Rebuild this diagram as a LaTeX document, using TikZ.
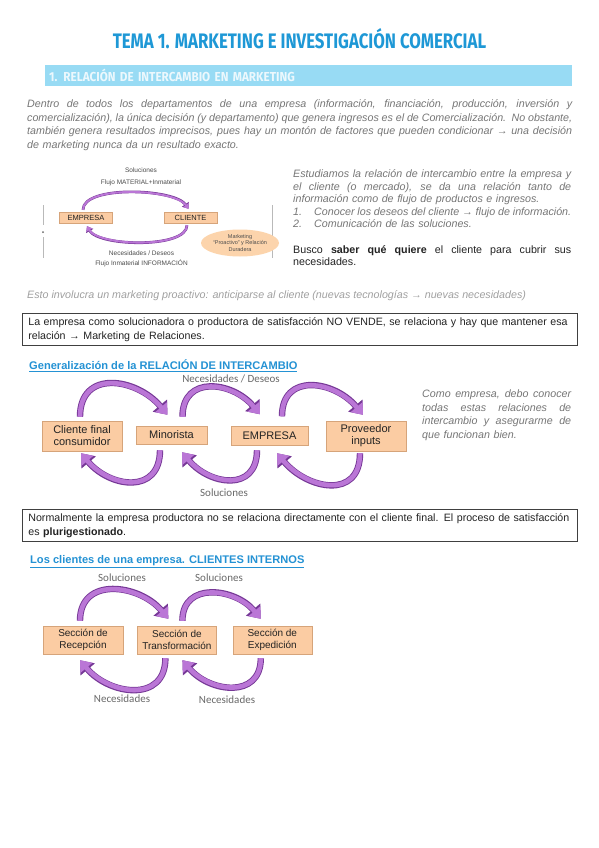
\documentclass[tikz,border=0pt]{standalone}
\usepackage{fontspec}
\setmainfont{Liberation Sans}
\newfontfamily\titlefont{Fira Sans}[FakeStretch=0.8]
\newfontfamily\barfont{Fira Sans}[FakeStretch=0.9]
\newfontfamily\labelfont{Carlito}
\usepackage{tikz}
\usetikzlibrary{shapes.geometric,arrows.meta,positioning}

\definecolor{titleblue}{RGB}{30,152,214}
\definecolor{barblue}{RGB}{152,219,244}
\definecolor{bartext}{RGB}{236,248,253}
\definecolor{headblue}{RGB}{36,146,212}
\definecolor{bodygray}{RGB}{118,118,118}
\definecolor{palegray}{RGB}{160,160,160}
\definecolor{boxfill}{RGB}{251,204,163}
\definecolor{boxline}{RGB}{214,164,122}
\definecolor{ovalfill}{RGB}{252,212,172}
\definecolor{purpfill}{RGB}{186,118,214}
\definecolor{purpedge}{RGB}{118,56,150}
\definecolor{textdark}{RGB}{35,35,35}
\definecolor{labelgray}{RGB}{105,105,105}
\definecolor{framegray}{RGB}{185,185,185}

% one justified line of fixed width
\newcommand{\fillline}[2]{\leavevmode\hbox to #1{\spaceskip=0.278em plus 1em minus 0.1em\relax #2}}

\begin{document}
\begin{tikzpicture}[x=1pt, y=1pt,
  box/.style={rectangle, draw=boxline, fill=boxfill, align=center, inner sep=0pt,
              text=textdark, minimum width=#1},
  box/.default=80pt,
  flow/.style={line width=4.6pt, draw=purpfill, -{Triangle[width=15pt,length=10pt]},
               preaction={draw=purpedge, line width=6.4pt, -{Triangle[width=18pt,length=12pt]}}},
  flowsmall/.style={line width=1.9pt, draw=purpfill, -{Triangle[width=6.5pt,length=4.5pt]},
               preaction={draw=purpedge, line width=2.7pt, -{Triangle[width=8pt,length=5.5pt]}}},
  note/.style={font=\labelfont\fontsize{11}{13}\selectfont, text=labelgray, inner sep=0pt},
  mininote/.style={font=\fontsize{6.5}{12}\selectfont, text=black!70, align=center, inner sep=0pt},
  para/.style={anchor=base west, inner sep=0pt, align=left, text=bodygray,
               font=\itshape\fontsize{10.7}{13.6}\selectfont},
  frame/.style={anchor=north west, draw=black!75, line width=0.7pt, text=textdark,
                align=left, text width=543pt, inner xsep=6pt, minimum height=32pt,
                font=\fontsize{10.65}{14}\selectfont},
  heading/.style={anchor=base west, inner sep=0pt, text=headblue,
                  font=\bfseries\fontsize{11.1}{12}\selectfont}
]
  \path[use as bounding box, fill=white] (0,0) rectangle (599,-848);

  % title and section bar
  \node[anchor=base, inner sep=0pt, text=titleblue,
        font=\titlefont\bfseries\fontsize{21}{24}\selectfont] (title) at (299.5,-49)
        {TEMA 1. MARKETING E INVESTIGACIÓN COMERCIAL};
  \node[anchor=north west, fill=barblue, minimum height=20.5pt, text width=519pt,
        inner xsep=4pt, align=left, text=bartext,
        font=\barfont\bfseries\fontsize{13}{15}\selectfont] (secbar) at (45,-65)
        {1.\hspace{6pt}RELACIÓN DE INTERCAMBIO EN MARKETING};

  \node[para, text width=545pt] (intro) at (27,-107.5) {%
    \fillline{545pt}{Dentro de todos los departamentos de una empresa (información, financiación, producción, inversión y}\\
    \fillline{545pt}{comercialización), la única decisión (y departamento) que genera ingresos es el de Comercialización. No obstante,}\\
    \fillline{545pt}{también genera resultados imprecisos, pues hay un montón de factores que pueden condicionar → una decisión}\\
    de marketing nunca da un resultado exacto.};

  % small exchange picture
  \draw[framegray, line width=0.6pt] (43,-205) -- (43,-225) (43,-237) -- (43,-258)
                                     (272,-205) -- (272,-258);
  \fill[black!60] (43,-232) circle (1pt);
  \node[box=53pt, minimum height=11pt, font=\fontsize{7.5}{9}\selectfont] (empresa1) at (86,-217.5) {EMPRESA};
  \node[box=53pt, minimum height=11pt, font=\fontsize{7.5}{9}\selectfont] (cliente1) at (190.5,-217.5) {CLIENTE};
  \node[mininote] (solmini) at (141,-177) {Soluciones\\Flujo MATERIAL+Inmaterial};
  \node[mininote, font=\fontsize{6.5}{10}\selectfont] (necmini) at (141.5,-259)
       {Necesidades / Deseos\\Flujo Inmaterial INFORMACIÓN};
  \node[ellipse, fill=ovalfill, minimum width=78pt, minimum height=27pt, inner sep=0pt,
        align=center, text=black!70, font=\fontsize{5.5}{6.3}\selectfont] (proactivo) at (240,-243)
       {Marketing\\``Proactivo'' y Relación\\Duradera};
  \draw[flowsmall] ([shift={(-3pt,2pt)}]empresa1.north) to[out=90, in=125, looseness=0.6]
                   ([shift={(-2pt,3pt)}]cliente1.north);
  \draw[flowsmall] ([shift={(-3.5pt,-2pt)}]cliente1.south) to[out=-90, in=-60, looseness=0.6]
                   ([shift={(1pt,-3pt)}]empresa1.south);

  \node[para, font=\itshape\fontsize{10.7}{12.6}\selectfont, text width=278pt] (estudio) at (293,-177.5) {%
    \fillline{278pt}{Estudiamos la relación de intercambio entre la empresa y}\\
    \fillline{278pt}{el cliente (o mercado), se da una relación tanto de}\\
    información como de flujo de productos e ingresos.\\
    \makebox[21pt][l]{1.}\fillline{257pt}{Conocer los deseos del cliente → flujo de información.}\\
    \makebox[21pt][l]{2.}Comunicación de las soluciones.\\[12.6pt]
    {\upshape\color{textdark}\fillline{278pt}{Busco \textbf{saber qué quiere} el cliente para cubrir sus}}\\
    {\upshape\color{textdark}necesidades.}};

  \node[para, text=palegray] (proactiva) at (27,-298.5)
       {Esto involucra un marketing proactivo: anticiparse al cliente (nuevas tecnologías → nuevas necesidades)};

  \node[frame] (relaciones) at (22,-313)
       {\mbox{La empresa como solucionadora o productora de satisfacción NO VENDE, se relaciona y hay que mantener esa}\\
        relación → Marketing de Relaciones.};

  % generalisation of the exchange
  \node[heading] (gentitle) at (29,-369.5) {\underline{Generalización de la RELACIÓN DE INTERCAMBIO}};
  \node[box, minimum height=30pt, font=\fontsize{11}{12}\selectfont] (cliente) at (82,-436) {Cliente final\\consumidor};
  \node[box=71pt, minimum height=18pt, font=\fontsize{11}{12}\selectfont] (minorista) at (171.5,-435) {Minorista};
  \node[box=77pt, minimum height=19pt, font=\fontsize{11}{12}\selectfont] (empresa) at (269.5,-435.5) {EMPRESA};
  \node[box, minimum height=30pt, font=\fontsize{11}{12}\selectfont] (proveedor) at (366,-436) {Proveedor\\inputs};
  \node[note] (necesidades) at (231,-379) {Necesidades / Deseos};
  \node[note] (soluciones) at (224,-493) {Soluciones};

  \draw[flow] ([shift={(-2pt,4pt)}]cliente.north) to[out=90, in=130, looseness=1.4]
              ([shift={(-4pt,11pt)}]minorista.north);
  \draw[flow] ([shift={(11pt,9pt)}]minorista.north) to[out=90, in=130, looseness=1.4]
              ([shift={(-9.5pt,11.5pt)}]empresa.north);
  \draw[flow] ([shift={(12.5pt,9.5pt)}]empresa.north) to[out=90, in=130, looseness=1.4]
              ([shift={(-3pt,6pt)}]proveedor.north);
  \draw[flow] ([shift={(-11.5pt,-6pt)}]minorista.south) to[out=-90, in=-50, looseness=1.45]
              ([shift={(-1pt,-2pt)}]cliente.south);
  \draw[flow] ([shift={(-12.5pt,-5pt)}]empresa.south) to[out=-90, in=-50, looseness=1.45]
              ([shift={(10.5pt,-8pt)}]minorista.south);
  \draw[flow] ([shift={(-6pt,-2pt)}]proveedor.south) to[out=-90, in=-50, looseness=1.45]
              ([shift={(7.5pt,-8pt)}]empresa.south);

  \node[para, text width=149pt] (comoempresa) at (422,-397.5) {%
    \fillline{149pt}{Como empresa, debo conocer}\\
    \fillline{149pt}{todas estas relaciones de}\\
    \fillline{149pt}{intercambio y asegurarme de}\\
    que funcionan bien.};

  \node[frame] (plurig) at (22,-509)
       {\mbox{Normalmente la empresa productora no se relaciona directamente con el cliente final. El proceso de satisfacción}\\
        es \textbf{plurigestionado}.};

  % internal clients
  \node[heading] (inttitle) at (30,-563) {\underline{Los clientes de una empresa. CLIENTES INTERNOS}};
  \node[box, minimum height=28pt, font=\fontsize{10}{11.5}\selectfont] (recepcion) at (83,-640) {Sección de\\Recepción};
  \node[box=79pt, minimum height=28pt, font=\fontsize{10}{11.5}\selectfont, right=14pt of recepcion] (transformacion) {Sección de\\Transformación};
  \node[box=79pt, minimum height=28pt, font=\fontsize{10}{11.5}\selectfont, right=16pt of transformacion] (expedicion) {Sección de\\Expedición};
  \node[note] (sol1) at (122,-578) {Soluciones};
  \node[note] (sol2) at (219,-578) {Soluciones};
  \node[note] (nec1) at (122,-699) {Necesidades};
  \node[note] (nec2) at (227,-700) {Necesidades};

  \draw[flow] ([shift={(-3pt,5pt)}]recepcion.north) to[out=90, in=130, looseness=1.3]
              ([shift={(-8.5pt,7pt)}]transformacion.north);
  \draw[flow] ([shift={(5.5pt,5pt)}]transformacion.north) to[out=90, in=130, looseness=1.3]
              ([shift={(-11.5pt,7pt)}]expedicion.north);
  \draw[flow] ([shift={(-11.5pt,-4pt)}]transformacion.south) to[out=-90, in=-50, looseness=1.35]
              ([shift={(-3pt,-6pt)}]recepcion.south);
  \draw[flow] ([shift={(-11.5pt,-4pt)}]expedicion.south) to[out=-90, in=-50, looseness=1.35]
              ([shift={(5.5pt,-6pt)}]transformacion.south);
\end{tikzpicture}
\end{document}
